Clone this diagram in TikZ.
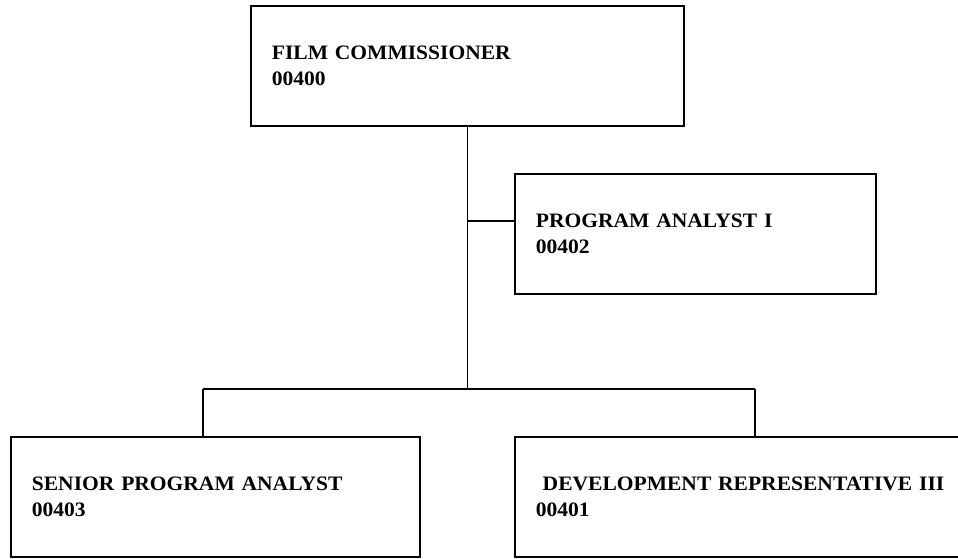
\documentclass[tikz,border=0pt]{standalone}
\usepackage{fontspec}
\setmainfont{Liberation Serif}[FakeStretch=1.05]
\usepackage{tikz}
\usetikzlibrary{positioning,calc}

\tikzset{
  post/.style={draw,line width=1.8pt,anchor=north west,minimum height=120pt,
    inner xsep=21pt,inner ysep=0pt,align=left,
    font=\bfseries\fontsize{20.5}{25.5}\selectfont},
  link/.style={line width=1.1pt}
}

\begin{document}
\begin{tikzpicture}[x=1pt,y=-1pt]
    \useasboundingbox (0,0) rectangle (958,558);

    % Top post
    \node[post,text width=391pt] (commish) at (250,5) {FILM COMMISSIONER\\00400};

    % Staff post on the side
    \node[post,text width=319pt] (analyst) at (514,173) {PROGRAM ANALYST I\\00402};

    % Lower posts
    \node[post,text width=367pt] (senior) at (10,436) {SENIOR PROGRAM ANALYST\\00403};
    \node[post,text width=430pt] (devrep) at (514,436) {\ DEVELOPMENT REPRESENTATIVE III\\00401};

    % Junction points
    \coordinate (tap) at (commish.south |- 0,221);
    \coordinate (bus) at (commish.south |- 0,389);
    \coordinate (busL) at (203,389);
    \coordinate (busR) at (755,389);

    % Connectors
    \draw[link] (commish.south) -- (bus);
    \draw[link] (tap) -- (tap -| analyst.west);
    \draw[link] (busL) -- (busR);
    \draw[link] (busL) -- (busL |- senior.north);
    \draw[link] (busR) -- (busR |- devrep.north);
\end{tikzpicture}
\end{document}
